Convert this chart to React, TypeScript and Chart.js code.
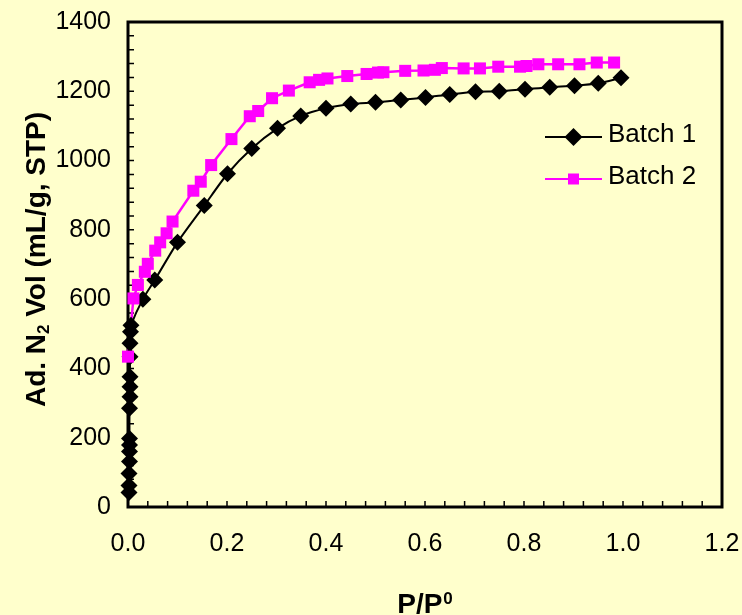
import React, { useEffect, useRef } from "react";
import { Chart, registerables } from "chart.js";

Chart.register(...registerables);

// ---- data ----
const seriesNames = ["Batch 1", "Batch 2"];

const batch1X = [
  0.002, 0.002, 0.002, 0.003, 0.003, 0.003, 0.003, 0.003, 0.004, 0.004, 0.004, 0.004, 0.004, 0.005, 0.006,
  0.03, 0.054, 0.1, 0.154, 0.201, 0.25, 0.302, 0.349, 0.4, 0.45, 0.5, 0.551, 0.601, 0.65, 0.702, 0.75,
  0.802, 0.852, 0.902, 0.95, 0.996,
];
const batch1Y = [
  42, 62, 97, 131, 160, 179, 198, 285, 318, 347, 376, 434, 473, 506, 525,
  600, 655, 764, 870, 962, 1035, 1093, 1129, 1151, 1163, 1168, 1175, 1182, 1191, 1199, 1200,
  1206, 1212, 1216, 1223, 1239,
];

const batch2X = [
  0.0, 0.011, 0.02, 0.034, 0.04, 0.055, 0.065, 0.078, 0.09, 0.132, 0.147, 0.168, 0.209, 0.246, 0.263,
  0.291, 0.325, 0.367, 0.386, 0.403, 0.443, 0.482, 0.505, 0.516, 0.56, 0.597, 0.62, 0.634, 0.678, 0.711,
  0.748, 0.792, 0.805, 0.829, 0.869, 0.912, 0.947, 0.982,
];
const batch2Y = [
  434, 602, 641, 679, 702, 740, 764, 790, 824, 913, 939, 987, 1062, 1128, 1143,
  1180, 1202, 1226, 1233, 1237, 1244, 1250, 1254, 1255, 1259, 1260, 1262, 1267, 1266, 1266,
  1271, 1271, 1273, 1278, 1278, 1278, 1283, 1283,
];

const xMin = 0;
const xMax = 1.2;
const xMajor = 0.2;
const xMinor = 0.04;
const yMin = 0;
const yMax = 1400;
const yMajor = 200;
const yMinor = 40;

const xTitleMain = "P/P";
const xTitleSup = "0";
const yTitleBefore = "Ad. N";
const yTitleSub = "2";
const yTitleAfter = " Vol (mL/g, STP)";

// ---- style ----
const BG = "#FFFFCC";
const MAGENTA = "#FF00FF";
const FONT = "'Liberation Sans', Arial, sans-serif";

const toPoints = (xs: number[], ys: number[]) => xs.map((x, i) => ({ x, y: ys[i] }));

const zeroPad = (s: any) => {
  s.paddingTop = 0;
  s.paddingBottom = 0;
  s.paddingLeft = 0;
  s.paddingRight = 0;
};

const decorPlugin = {
  id: "decor",
  beforeDraw(chart: any) {
    const { ctx, width, height } = chart;
    ctx.save();
    ctx.fillStyle = BG;
    ctx.fillRect(0, 0, width, height);
    ctx.restore();
  },
  beforeDatasetsDraw(chart: any) {
    const { ctx, chartArea: a, scales } = chart;
    const x = scales.x;
    const y = scales.y;
    ctx.save();
    ctx.strokeStyle = "#000";
    ctx.lineWidth = 1.5;
    ctx.beginPath();
    const nx = Math.round((xMax - xMin) / xMinor);
    for (let i = 1; i < nx; i++) {
      const px = x.getPixelForValue(xMin + i * xMinor);
      ctx.moveTo(px, a.bottom);
      ctx.lineTo(px, a.bottom - 6);
    }
    const ny = Math.round((yMax - yMin) / yMinor);
    for (let i = 1; i < ny; i++) {
      const py = y.getPixelForValue(yMin + i * yMinor);
      ctx.moveTo(a.left, py);
      ctx.lineTo(a.left + 6, py);
    }
    ctx.stroke();
    ctx.lineWidth = 3;
    ctx.strokeRect(a.left, a.top, a.right - a.left, a.bottom - a.top);
    ctx.restore();
  },
  afterDraw(chart: any) {
    const { ctx, chartArea: a } = chart;
    ctx.save();
    ctx.fillStyle = "#000";
    // x title
    const big = `bold 28px ${FONT}`;
    const small = `bold 17px ${FONT}`;
    ctx.font = big;
    const wMain = ctx.measureText(xTitleMain).width;
    ctx.font = small;
    const wSup = ctx.measureText(xTitleSup).width;
    const cx = (a.left + a.right) / 2;
    const startX = cx - (wMain + wSup + 1) / 2;
    ctx.textBaseline = "alphabetic";
    ctx.textAlign = "left";
    ctx.font = big;
    ctx.fillText(xTitleMain, startX, 613);
    ctx.font = small;
    ctx.fillText(xTitleSup, startX + wMain + 1, 604);

    // y title (rotated)
    ctx.save();
    const cy = (a.top + a.bottom) / 2 - 5;
    ctx.translate(45, cy);
    ctx.rotate(-Math.PI / 2);
    ctx.font = big;
    const w1 = ctx.measureText(yTitleBefore).width;
    const w3 = ctx.measureText(yTitleAfter).width;
    ctx.font = small;
    const w2 = ctx.measureText(yTitleSub).width;
    let sx = -(w1 + w2 + w3) / 2;
    ctx.font = big;
    ctx.fillText(yTitleBefore, sx, 0);
    sx += w1;
    ctx.font = small;
    ctx.fillText(yTitleSub, sx, 4);
    sx += w2;
    ctx.font = big;
    ctx.fillText(yTitleAfter, sx, 0);
    ctx.restore();

    // legend
    const lx0 = a.right - 177;
    const lx1 = a.right - 120;
    const items = [
      { y: a.top + 115, color: "#000", lw: 2, style: "diamond" },
      { y: a.top + 157, color: MAGENTA, lw: 2, style: "square" },
    ];
    items.forEach((it, i) => {
      ctx.strokeStyle = it.color;
      ctx.lineWidth = it.lw;
      ctx.beginPath();
      ctx.moveTo(lx0, it.y);
      ctx.lineTo(lx1, it.y);
      ctx.stroke();
      const mx = (lx0 + lx1) / 2;
      ctx.fillStyle = it.color;
      ctx.beginPath();
      if (it.style === "diamond") {
        const r = 9;
        ctx.moveTo(mx, it.y - r);
        ctx.lineTo(mx + r, it.y);
        ctx.lineTo(mx, it.y + r);
        ctx.lineTo(mx - r, it.y);
        ctx.closePath();
      } else {
        const s = 5.5;
        ctx.rect(mx - s, it.y - s, 2 * s, 2 * s);
      }
      ctx.fill();
      ctx.fillStyle = "#000";
      ctx.font = `26px ${FONT}`;
      ctx.textBaseline = "middle";
      ctx.textAlign = "left";
      ctx.fillText(seriesNames[i], a.right - 114, it.y - 2);
    });
    ctx.restore();
  },
};

export default function App() {
  const canvasRef = useRef<HTMLCanvasElement | null>(null);

  useEffect(() => {
    const canvas = canvasRef.current;
    if (!canvas) return;
    const pts1 = toPoints(batch1X, batch1Y);
    const pts2 = toPoints(batch2X, batch2Y);
    const chart = new Chart(canvas, {
      type: "scatter",
      data: {
        datasets: [
          // lines (drawn beneath all markers, as in the original)
          {
            label: seriesNames[0] + " line",
            data: pts1,
            showLine: true,
            borderColor: "#000",
            borderWidth: 2,
            pointRadius: 0,
            tension: 0.25,
            clip: false,
            order: 4,
          } as any,
          {
            label: seriesNames[1] + " line",
            data: pts2,
            showLine: true,
            borderColor: MAGENTA,
            borderWidth: 2.5,
            pointRadius: 0,
            tension: 0,
            clip: false,
            order: 3,
          } as any,
          // markers
          {
            label: seriesNames[0],
            data: pts1,
            showLine: false,
            borderColor: "#000",
            backgroundColor: "#000",
            pointStyle: "rectRot",
            pointRadius: 8.5,
            pointBorderWidth: 0,
            pointHoverRadius: 8.5,
            clip: false,
            order: 2,
          } as any,
          {
            label: seriesNames[1],
            data: pts2,
            showLine: false,
            borderColor: MAGENTA,
            backgroundColor: MAGENTA,
            pointStyle: "rect",
            pointRadius: 8.5,
            pointBorderWidth: 0,
            pointHoverRadius: 8.5,
            clip: false,
            order: 1,
          } as any,
        ],
      },
      options: {
        animation: false,
        responsive: false,
        events: [],
        layout: { autoPadding: false, padding: { top: 22, right: 20, left: 0, bottom: 0 } },
        plugins: {
          legend: { display: false },
          tooltip: { enabled: false },
          title: { display: false },
        },
        scales: {
          x: {
            type: "linear",
            min: xMin,
            max: xMax,
            grid: { display: false, drawTicks: false },
            border: { display: false },
            ticks: {
              stepSize: xMajor,
              padding: 22,
              color: "#000",
              font: { family: FONT, size: 25 },
              callback: (v: any) => Number(v).toFixed(1),
            },
            afterFit: (s: any) => {
              s.height = 108;
              zeroPad(s);
            },
          },
          y: {
            type: "linear",
            min: yMin,
            max: yMax,
            grid: { display: false, drawTicks: false },
            border: { display: false },
            ticks: {
              stepSize: yMajor,
              padding: 17,
              color: "#000",
              font: { family: FONT, size: 25 },
              callback: (v: any) => String(Math.round(Number(v))),
            },
            afterFit: (s: any) => {
              s.width = 128;
              zeroPad(s);
            },
          },
        },
      },
      plugins: [decorPlugin],
    });
    return () => chart.destroy();
  }, []);

  return (
    <div style={{ position: "absolute", left: 0, top: 0, width: 742, height: 615, background: BG }}>
      <canvas ref={canvasRef} width={742} height={615} style={{ display: "block" }} />
    </div>
  );
}
